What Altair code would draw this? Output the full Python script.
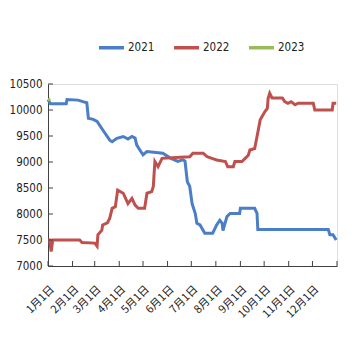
import altair as alt
import pandas as pd

# ---- data (day of year, value) ----
d2021_days = [0, 3, 23, 24, 38, 44, 49, 51, 57, 62, 69, 78, 81, 87, 95, 101, 106, 110, 112, 116, 120, 125, 145, 154, 164, 170, 173, 176, 179, 182, 186, 188, 192, 198, 208, 213, 217, 220, 221, 226, 230, 242, 243, 261, 264, 265, 354, 356, 360, 364]
d2021_vals = [10200, 10120, 10120, 10200, 10190, 10160, 10140, 9840, 9820, 9780, 9620, 9420, 9390, 9455, 9490, 9440, 9490, 9460, 9330, 9230, 9140, 9200, 9170, 9080, 9010, 9040, 9020, 8620, 8530, 8200, 8010, 7820, 7790, 7630, 7630, 7790, 7880, 7820, 7680, 7950, 8010, 8010, 8110, 8110, 8010, 7700, 7700, 7600, 7600, 7500]

d2022_days = [0, 2, 4, 6, 40, 43, 59, 62, 63, 68, 69, 75, 78, 81, 85, 88, 95, 101, 106, 110, 114, 122, 125, 131, 133, 135, 139, 144, 167, 179, 183, 196, 201, 207, 213, 224, 227, 234, 236, 245, 249, 253, 255, 261, 264, 268, 274, 277, 278, 280, 283, 296, 299, 303, 307, 312, 316, 335, 337, 359, 360, 364]
d2022_vals = [7500, 7500, 7280, 7500, 7500, 7450, 7440, 7380, 7600, 7690, 7790, 7830, 7920, 8110, 8140, 8460, 8400, 8200, 8300, 8170, 8110, 8110, 8400, 8430, 8530, 9010, 8910, 9070, 9090, 9100, 9170, 9170, 9100, 9070, 9040, 9010, 8910, 8910, 9010, 9010, 9070, 9130, 9230, 9260, 9490, 9810, 9970, 10030, 10220, 10320, 10230, 10230, 10160, 10130, 10160, 10100, 10130, 10130, 10000, 10000, 10130, 10130]

d2023_days = [0, 3]
d2023_vals = [10200, 10200]

series_names = ["2021", "2022", "2023"]
series_colors = ["#4A7EC6", "#C0504D", "#9BBB59"]

month_days = [0, 31, 59, 90, 120, 151, 181, 212, 243, 273, 304, 334, 365]
month_labels = ["1月1日", "2月1日", "3月1日", "4月1日", "5月1日", "6月1日",
                "7月1日", "8月1日", "9月1日", "10月1日", "11月1日", "12月1日"]
y_ticks = [7000, 7500, 8000, 8500, 9000, 9500, 10000, 10500]

rows = []
for name, days, vals in zip(series_names, [d2021_days, d2022_days, d2023_days],
                            [d2021_vals, d2022_vals, d2023_vals]):
    for i, (d, v) in enumerate(zip(days, vals)):
        rows.append({"series": name, "day": d, "value": v, "order": i})
df = pd.DataFrame(rows)

W, H = 289, 182
NARROW = "DejaVu Sans Condensed, Liberation Sans"
AXIS_COLOR = "#404040"

label_expr = "[" + ",".join("'%s'" % s for s in month_labels) + "][indexof([" + \
    ",".join(str(d) for d in month_days[:12]) + "], datum.value)]"

xscale = alt.Scale(domain=[0, 365], nice=False, zero=False)
yscale = alt.Scale(domain=[7000, 10500], nice=False, zero=False)

x_axis = alt.Axis(values=month_days[:12], labelExpr=label_expr, tickSize=0,
                  labelAngle=315, labelAlign="right", labelBaseline="top",
                  labelPadding=17, labelFont="Noto Sans CJK SC", labelFontSize=11,
                  labelColor="#222222", labelFlush=False, labelOverlap=False,
                  labelBound=False, domainColor=AXIS_COLOR, domainWidth=1,
                  grid=False)
y_axis = alt.Axis(values=y_ticks, format="d", tickSize=0, labelPadding=6,
                  labelFont=NARROW, labelFontSize=11.5, labelColor="#222222",
                  labelFlush=False, labelOverlap=False, labelBound=False,
                  domainColor=AXIS_COLOR, domainWidth=1, grid=False)

lines = alt.Chart(df).mark_line(strokeWidth=3, interpolate="linear").encode(
    x=alt.X("day:Q", scale=xscale, title=None, axis=x_axis),
    y=alt.Y("value:Q", scale=yscale, title=None, axis=y_axis),
    color=alt.Color("series:N", scale=alt.Scale(domain=series_names, range=series_colors),
                    legend=alt.Legend(title=None, orient="none", legendX=49, legendY=-51,
                                      direction="horizontal", symbolType="stroke",
                                      symbolSize=625, symbolStrokeWidth=3.5,
                                      labelFont=NARROW, labelFontSize=11.5, labelColor="#222222",
                                      labelOffset=2, columnPadding=12)),
    order="order:Q",
)

xticks_df = pd.DataFrame({"day": month_days})
xticks = alt.Chart(xticks_df).mark_rule(color=AXIS_COLOR, strokeWidth=1).encode(
    x=alt.X("day:Q", scale=xscale, title=None, axis=x_axis),
    y=alt.value(H - 5),
    y2=alt.value(H),
)

yticks_df = pd.DataFrame({"value": y_ticks})
yticks = alt.Chart(yticks_df).mark_rule(color=AXIS_COLOR, strokeWidth=1).encode(
    y=alt.Y("value:Q", scale=yscale, title=None, axis=y_axis),
    x=alt.value(0),
    x2=alt.value(5),
)

chart = alt.layer(lines, xticks, yticks).properties(
    width=W, height=H,
    autosize=alt.AutoSizeParams(type="none"),
    padding={"left": 40, "top": 76, "right": 18, "bottom": 89},
).configure_view(stroke=None).configure(background="white")

chart.save("out.html", embed_options={"renderer": "svg", "actions": False})
